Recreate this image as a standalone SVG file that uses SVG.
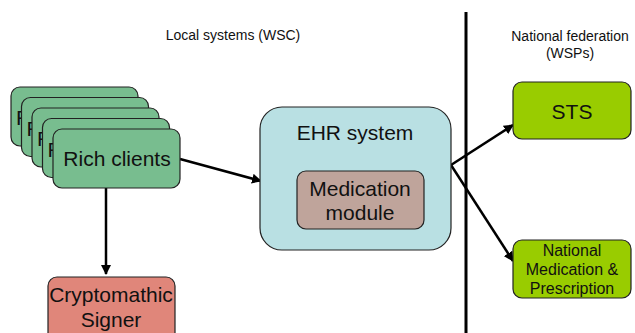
<svg xmlns="http://www.w3.org/2000/svg" width="635" height="333" viewBox="0 0 635 333">
<style>
text{font-family:"Liberation Sans",Arial,sans-serif;fill:#111;text-anchor:middle}
.lbl{font-size:14px}
.big{font-size:21px}
.r{font-size:21px;text-anchor:start}
.mid{font-size:16px}
.rc{fill:#78bd8f;stroke:#222;stroke-width:1.2}
.con{stroke:#000;stroke-width:2.5;fill:none;marker-end:url(#ah)}
</style>
<defs>
<marker id="ah" viewBox="0 0 10 10" refX="9" refY="5" markerWidth="4" markerHeight="4" orient="auto" markerUnits="strokeWidth">
<path d="M0,0 L10,5 L0,10 z" fill="#000"/>
</marker>
</defs>
<rect width="635" height="333" fill="#fff"/>
<text class="lbl" x="233" y="40">Local systems (WSC)</text>
<text class="lbl" x="570" y="41">National federation</text>
<text class="lbl" x="570" y="58">(WSPs)</text>
<line x1="466" y1="12" x2="466" y2="333" stroke="#000" stroke-width="3"/>
<g id="connectors">
<line class="con" x1="180" y1="159" x2="261" y2="181"/>
<line class="con" x1="106" y1="188" x2="106" y2="274"/>
<line class="con" x1="451" y1="165" x2="513" y2="125"/>
<line class="con" x1="451" y1="165" x2="513" y2="261"/>
</g>
<g id="rich-clients">
<rect class="rc" x="11" y="87" width="127" height="59" rx="9"/>
<text class="r" x="16" y="125">R</text>
<rect class="rc" x="21.5" y="97.5" width="127" height="59" rx="9"/>
<text class="r" x="26.5" y="135.5">R</text>
<rect class="rc" x="32" y="108" width="127" height="59" rx="9"/>
<text class="r" x="37" y="146">R</text>
<rect class="rc" x="42.5" y="118.5" width="127" height="59" rx="9"/>
<text class="r" x="47.5" y="156.5">R</text>
<rect class="rc" x="53" y="129" width="127" height="59" rx="9"/>
<text class="big" x="117" y="166">Rich clients</text>
</g>
<g id="ehr">
<rect x="260" y="107" width="191" height="143" rx="22" fill="#b9e0e3" stroke="#222" stroke-width="1.2"/>
<text class="big" x="355" y="140">EHR system</text>
</g>
<g id="medication-module">
<rect x="297" y="171" width="127" height="58" rx="9" fill="#bfa49b" stroke="#222" stroke-width="1.2"/>
<text class="big" x="360" y="196">Medication</text>
<text class="big" x="360" y="220">module</text>
</g>
<g id="cryptomathic">
<rect x="48" y="277" width="127" height="70" rx="9" fill="#e0867a" stroke="#222" stroke-width="1.2"/>
<text class="big" x="111" y="302">Cryptomathic</text>
<text class="big" x="111" y="327">Signer</text>
</g>
<g id="sts">
<rect x="513" y="82" width="118" height="57" rx="9" fill="#99cc00" stroke="#222" stroke-width="1.2"/>
<text class="big" x="572" y="119">STS</text>
</g>
<g id="nmp">
<rect x="513" y="240" width="118" height="58" rx="9" fill="#99cc00" stroke="#222" stroke-width="1.2"/>
<text class="mid" x="572" y="256">National</text>
<text class="mid" x="572" y="275">Medication &amp;</text>
<text class="mid" x="572" y="294">Prescription</text>
</g>
</svg>
